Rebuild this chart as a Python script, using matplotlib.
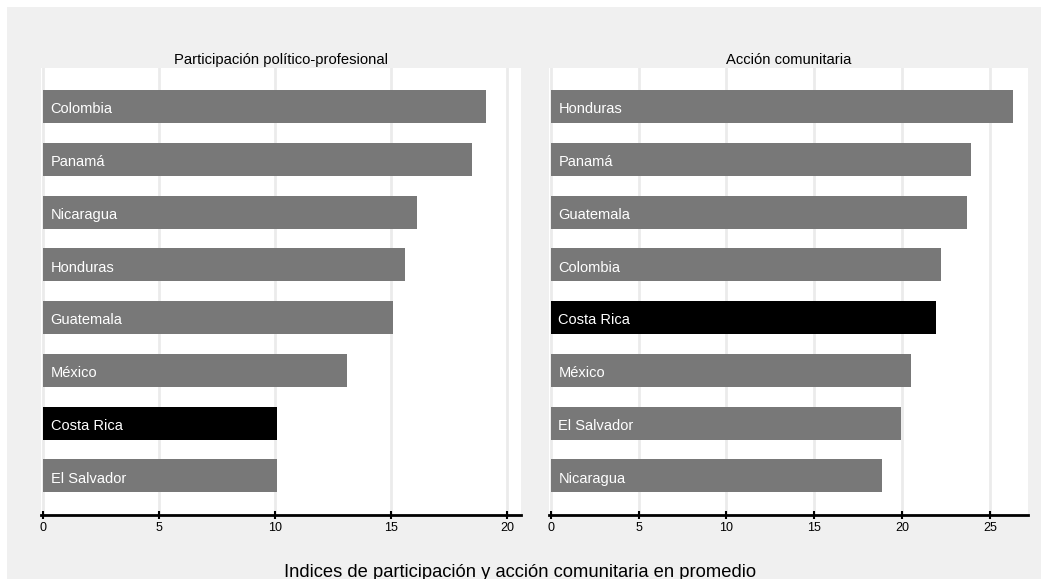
import matplotlib.pyplot as plt
from matplotlib.patches import Rectangle

plt.rcParams['font.family'] = ['Liberation Sans', 'DejaVu Sans']

# Participación político-profesional (de abajo hacia arriba)
paises_izq = ['El Salvador', 'Costa Rica', 'México', 'Guatemala',
              'Honduras', 'Nicaragua', 'Panamá', 'Colombia']
valores_izq = [10.1, 10.1, 13.1, 15.1, 15.6, 16.1, 18.5, 19.1]

# Acción comunitaria (de abajo hacia arriba)
paises_der = ['Nicaragua', 'El Salvador', 'México', 'Costa Rica',
              'Colombia', 'Guatemala', 'Panamá', 'Honduras']
valores_der = [18.85, 19.9, 20.5, 21.9, 22.2, 23.7, 23.9, 26.3]

titulos = ['Participación político-profesional', 'Acción comunitaria']
ticks_izq = [0, 5, 10, 15, 20]
ticks_der = [0, 5, 10, 15, 20, 25]

FONDO = '#f0f0f0'
GRIS = '#787878'
DESTACADO = 'Costa Rica'

W, H = 1048, 579
fig = plt.figure(figsize=(W / 100, H / 100), dpi=100, facecolor='white')

# fondo gris con un pequeño margen blanco arriba y a los lados
fig.patches.append(Rectangle((7 / W, -0.02), (W - 14) / W, (H - 7) / H + 0.02,
                             transform=fig.transFigure, facecolor=FONDO,
                             edgecolor='none', zorder=-10))

def caja(x0, x1, y0, y1):
    return [x0 / W, 1 - y1 / H, (x1 - x0) / W, (y1 - y0) / H]

ax1 = fig.add_axes(caja(41.5, 520.5, 68, 515))
ax2 = fig.add_axes(caja(548.5, 1028, 68, 515))

paneles = [
    (ax1, paises_izq, valores_izq, titulos[0], ticks_izq, (-0.065, 20.58)),
    (ax2, paises_der, valores_der, titulos[1], ticks_der, (-0.125, 27.15)),
]

for ax, paises, valores, titulo, ticks, lim in paneles:
    ax.set_facecolor('white')
    pos = list(range(len(paises)))
    colores = ['black' if p == DESTACADO else GRIS for p in paises]
    ax.barh(pos, valores, height=0.625, color=colores, zorder=2)

    # etiquetas dentro de las barras
    for y, p in zip(pos, paises):
        ax.annotate(p, (0, y), xytext=(5.5, -2), textcoords='offset points',
                    color='white', fontsize=10.5, ha='left', va='center',
                    zorder=3)

    ax.set_xlim(*lim)
    ax.set_ylim(-0.74, 7.73)
    ax.set_xticks(ticks)
    ax.set_yticks([])
    ax.grid(axis='x', color='#ebebeb', linewidth=2, zorder=0)
    ax.set_axisbelow(True)

    for lado in ['top', 'right', 'left']:
        ax.spines[lado].set_visible(False)
    ax.spines['bottom'].set_linewidth(2)
    ax.spines['bottom'].set_color('black')
    ax.tick_params(axis='x', direction='inout', length=6, width=1.5,
                   labelsize=9, pad=2)
    ax.set_title(titulo, fontsize=10.6, pad=3)

fig.text(520 / W, 2 / H, 'Indices de participación y acción comunitaria en promedio',
         ha='center', va='baseline', fontsize=13.2)

plt.savefig('out.png', dpi=100, facecolor='white')
